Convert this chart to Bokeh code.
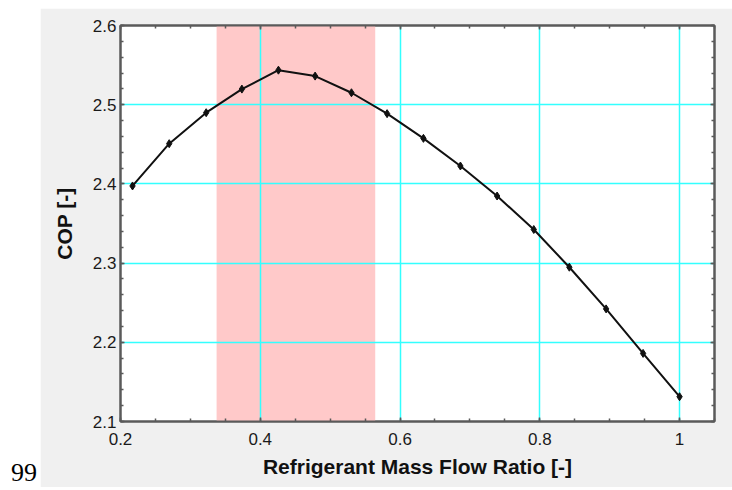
import numpy as np
from bokeh.plotting import figure
from bokeh.models import LinearAxis, FixedTicker, BoxAnnotation, Div, Range1d
from bokeh.layouts import row
from bokeh.embed import file_html
from bokeh.resources import INLINE

# ---- data ----
mass_flow_ratio = [0.2172, 0.2697, 0.3226, 0.3737, 0.4260, 0.4785, 0.5305, 0.5815,
                   0.6335, 0.6864, 0.7389, 0.7914, 0.8423, 0.8949, 0.9478, 1.0]
cop = [2.3974, 2.4508, 2.4899, 2.5197, 2.5436, 2.5361, 2.5151, 2.4887,
       2.4575, 2.4226, 2.3847, 2.3424, 2.2948, 2.2422, 2.1860, 2.1313]
shaded_range = [0.3375, 0.5645]
x_ticks = [0.2, 0.4, 0.6, 0.8, 1.0]
x_tick_labels = ["0.2", "0.4", "0.6", "0.8", "1"]
y_ticks = [2.1, 2.2, 2.3, 2.4, 2.5, 2.6]
y_tick_labels = ["2.1", "2.2", "2.3", "2.4", "2.5", "2.6"]
x_label = "Refrigerant Mass Flow Ratio [-]"
y_label = "COP [-]"
page_number = "99"

x_minor = [round(v, 3) for v in np.arange(0.2, 1.051, 0.05)]
y_minor = [round(v, 3) for v in np.arange(2.1, 2.601, 0.02)]

GREY = "#f0f0f0"
FRAME = "#5a5a5a"
CYAN = "#33ffff"
FONT = "Liberation Sans"

p = figure(width=692, height=479, output_backend="svg", toolbar_location=None,
           x_range=Range1d(0.2, 1.05), y_range=Range1d(2.1, 2.6),
           x_axis_location=None, y_axis_location=None,
           min_border_left=80, min_border_right=18, min_border_top=17, min_border_bottom=66,
           background_fill_color="white", border_fill_color=GREY,
           outline_line_color=FRAME, outline_line_width=2, margin=(8, 0, 0, 0))

def make_axis(ticks, minor, labels, show_labels, standoff):
    ax = LinearAxis(ticker=FixedTicker(ticks=ticks, minor_ticks=minor))
    ax.major_tick_in = 4
    ax.major_tick_out = 0
    ax.minor_tick_in = 3
    ax.minor_tick_out = 0
    ax.major_tick_line_color = FRAME
    ax.minor_tick_line_color = FRAME
    ax.major_tick_line_width = 1.5
    ax.minor_tick_line_width = 1.5
    ax.axis_line_color = FRAME
    ax.axis_line_width = 2
    if show_labels:
        ax.major_label_overrides = {t: l for t, l in zip(ticks, labels)}
        ax.major_label_text_font = FONT
        ax.major_label_text_font_size = "17px"
        ax.major_label_text_color = "#1a1a1a"
        ax.major_label_standoff = standoff
    else:
        ax.major_label_overrides = {t: "" for t in ticks}
        ax.major_label_text_font_size = "1px"
        ax.major_label_standoff = 0
    return ax

def label_axis(text, bounds, standoff):
    ax = LinearAxis(ticker=FixedTicker(ticks=[]), bounds=bounds, axis_label=text)
    ax.axis_line_color = None
    ax.major_tick_line_color = None
    ax.minor_tick_line_color = None
    ax.major_tick_out = 0
    ax.minor_tick_out = 0
    ax.major_label_standoff = 0
    ax.axis_label_standoff = standoff
    ax.axis_label_text_font = FONT
    ax.axis_label_text_font_style = "bold"
    ax.axis_label_text_font_size = "21px"
    ax.axis_label_text_color = "#111111"
    return ax

p.add_layout(make_axis(x_ticks, x_minor, x_tick_labels, True, 11), "below")
p.add_layout(label_axis(x_label, (0.255, 1.05), 7), "below")
p.add_layout(make_axis(x_ticks, x_minor, x_tick_labels, False, 0), "above")
p.add_layout(make_axis(y_ticks, y_minor, y_tick_labels, True, 4), "left")
p.add_layout(label_axis(y_label, (2.1, 2.5578), 14), "left")
p.add_layout(make_axis(y_ticks, y_minor, y_tick_labels, False, 0), "right")

p.xgrid.ticker = FixedTicker(ticks=x_ticks)
p.ygrid.ticker = FixedTicker(ticks=y_ticks)
p.xgrid.grid_line_color = CYAN
p.ygrid.grid_line_color = CYAN
p.xgrid.grid_line_width = 1.5
p.ygrid.grid_line_width = 1.5

band = BoxAnnotation(left=shaded_range[0], right=shaded_range[1],
                     fill_color="#ffc9c9", fill_alpha=1.0, line_color=None, level="image")
p.add_layout(band)

p.line(mass_flow_ratio, cop, line_color="#111111", line_width=2)
p.scatter(mass_flow_ratio, cop, marker="diamond", size=8, color="#111111")

num = Div(text='<div style="position:absolute; left:11px; top:460px; '
               'font-family:\'Liberation Serif\'; font-size:26px; line-height:1; color:#000;">'
               + page_number + '</div>',
          width=40, height=490, margin=(0, 0, 0, 0))

layout = row(num, p, spacing=0)
open("out.html", "w").write(file_html(layout, INLINE))
